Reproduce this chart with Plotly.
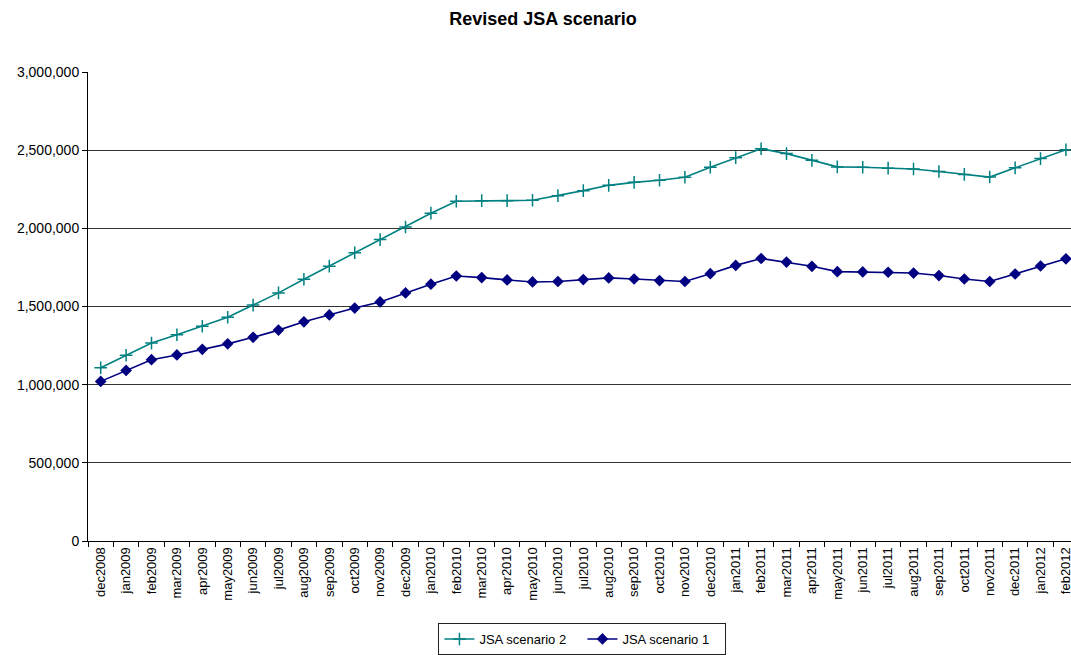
import plotly.graph_objects as go

months = [
    "dec2008", "jan2009", "feb2009", "mar2009", "apr2009", "may2009", "jun2009",
    "jul2009", "aug2009", "sep2009", "oct2009", "nov2009", "dec2009", "jan2010",
    "feb2010", "mar2010", "apr2010", "may2010", "jun2010", "jul2010", "aug2010",
    "sep2010", "oct2010", "nov2010", "dec2010", "jan2011", "feb2011", "mar2011",
    "apr2011", "may2011", "jun2011", "jul2011", "aug2011", "sep2011", "oct2011",
    "nov2011", "dec2011", "jan2012", "feb2012",
]

scenario_2 = [
    1108000, 1188000, 1266000, 1319000, 1374000, 1431000, 1509000,
    1587000, 1674000, 1758000, 1844000, 1928000, 2009000, 2097000,
    2173000, 2177000, 2177000, 2180000, 2209000, 2241000, 2275000,
    2294000, 2308000, 2327000, 2391000, 2452000, 2509000, 2478000,
    2435000, 2393000, 2391000, 2385000, 2380000, 2364000, 2345000,
    2328000, 2387000, 2446000, 2503000,
]

scenario_1 = [
    1021000, 1091000, 1160000, 1190000, 1226000, 1261000, 1303000,
    1349000, 1402000, 1446000, 1490000, 1529000, 1587000, 1643000,
    1695000, 1685000, 1670000, 1657000, 1660000, 1672000, 1683000,
    1676000, 1666000, 1660000, 1710000, 1763000, 1807000, 1784000,
    1757000, 1723000, 1721000, 1719000, 1714000, 1698000, 1676000,
    1660000, 1708000, 1759000, 1805000,
]

y_ticks = [0, 500000, 1000000, 1500000, 2000000, 2500000, 3000000]

TEAL = "#008080"
NAVY = "#000080"
FONT = "Liberation Sans, Arial, sans-serif"

fig = go.Figure()

fig.add_trace(go.Scatter(
    x=months, y=scenario_2, name="JSA scenario 2",
    mode="lines+markers",
    line=dict(color=TEAL, width=1.6),
    marker=dict(symbol="cross-thin", size=9, line=dict(color=TEAL, width=1.5)),
))

fig.add_trace(go.Scatter(
    x=months, y=scenario_1, name="JSA scenario 1",
    mode="lines+markers",
    line=dict(color=NAVY, width=1.6),
    marker=dict(symbol="diamond", size=9, color=NAVY),
))

fig.update_layout(
    width=1071, height=655,
    margin=dict(l=88, r=0, t=72, b=110),
    paper_bgcolor="white", plot_bgcolor="white",
    font=dict(family=FONT, size=13, color="black"),
    title=dict(
        text="<b>Revised JSA scenario</b>",
        x=0.507, xanchor="center", y=0.972, yanchor="middle",
        font=dict(family=FONT, size=18, color="black"),
    ),
    showlegend=True,
    legend=dict(
        orientation="h",
        x=0.503, xanchor="center",
        y=-0.21, yanchor="middle",
        bordercolor="#222222", borderwidth=1,
        bgcolor="white",
        font=dict(family=FONT, size=13, color="black"),
        itemwidth=30,
        entrywidth=98,
    ),
)

fig.update_xaxes(
    type="category",
    range=[-0.5, 38.2],
    automargin=False,
    tickangle=-90,
    tickson="boundaries",
    ticks="outside", ticklen=5, tickcolor="black",
    showline=True, linecolor="black", linewidth=1,
    showgrid=False, zeroline=False,
    tickfont=dict(family=FONT, size=13, color="black"),
)

fig.update_yaxes(
    range=[0, 3000000],
    automargin=False,
    tickvals=y_ticks,
    tickformat=",d",
    ticks="outside", ticklen=5, tickcolor="black",
    showline=True, linecolor="black", linewidth=1,
    showgrid=True, gridcolor="#333333", gridwidth=1,
    zeroline=False,
    tickfont=dict(family=FONT, size=14, color="black"),
)

fig.write_html("out.html")
